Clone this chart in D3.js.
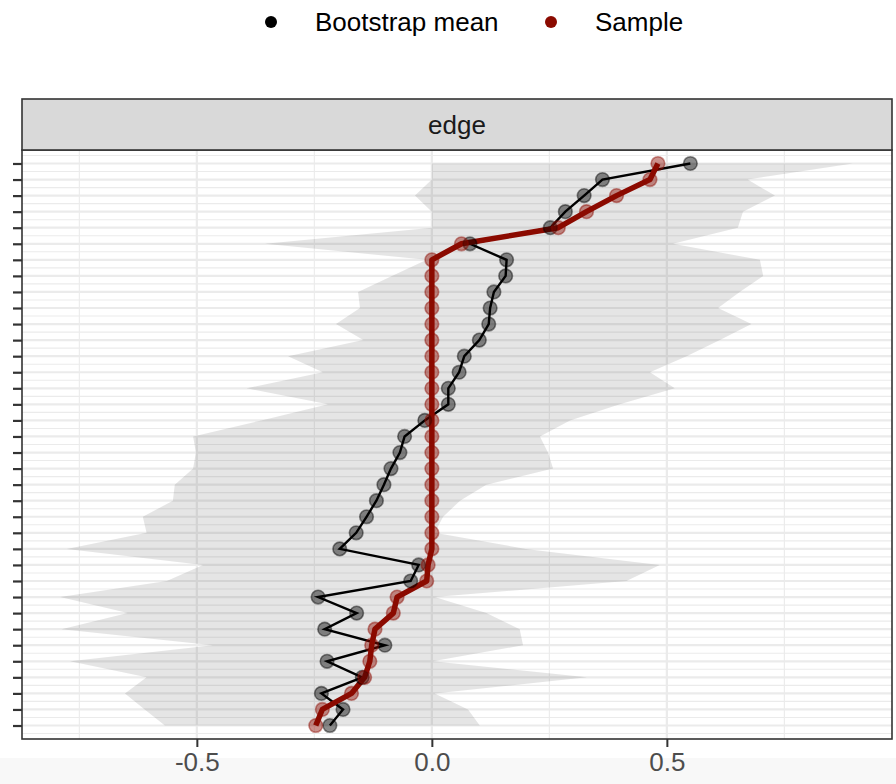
<!DOCTYPE html>
<html>
<head>
<meta charset="utf-8">
<script src="https://cdn.jsdelivr.net/npm/d3@7"></script>
<style>
  body { margin: 0; background: #fff; }
  svg { display: block; font-family: "Liberation Sans", Arial, Helvetica, sans-serif; }
</style>
</head>
<body>
<div class="grafico"></div>
<script>
// edges, top to bottom (ordered by sample value)
var edges = ["E01","E02","E03","E04","E05","E06","E07","E08","E09","E10","E11","E12",
             "E13","E14","E15","E16","E17","E18","E19","E20","E21","E22","E23","E24",
             "E25","E26","E27","E28","E29","E30","E31","E32","E33","E34","E35","E36"];

var bootMean = [0.550, 0.363, 0.324, 0.284, 0.252, 0.081, 0.159, 0.157, 0.132, 0.124, 0.121, 0.101,
                0.069, 0.058, 0.035, 0.035, -0.015, -0.058, -0.068, -0.087, -0.102, -0.118, -0.139, -0.161,
                -0.196, -0.028, -0.045, -0.242, -0.160, -0.228, -0.100, -0.223, -0.148, -0.235, -0.189, -0.217];

var sample = [0.481, 0.464, 0.393, 0.329, 0.269, 0.063, 0, 0, 0, 0, 0, 0,
              0, 0, 0, 0, 0, 0, 0, 0, 0, 0, 0, 0,
              0, -0.008, -0.011, -0.074, -0.082, -0.121, -0.128, -0.132, -0.143, -0.171, -0.233, -0.247];

// bootstrap CI bounds
var lower = [0.0, 0.0, -0.036, 0.0, 0.0, -0.355, -0.011, -0.085, -0.157, -0.153, -0.204, -0.146,
             -0.306, -0.232, -0.394, -0.221, -0.363, -0.508, -0.502, -0.508, -0.547, -0.551, -0.615, -0.607,
             -0.777, -0.487, -0.564, -0.791, -0.647, -0.788, -0.466, -0.770, -0.607, -0.653, -0.611, -0.568];

var upper = [0.896, 0.672, 0.730, 0.662, 0.651, 0.513, 0.698, 0.705, 0.655, 0.609, 0.680, 0.613,
             0.542, 0.464, 0.517, 0.400, 0.294, 0.230, 0.247, 0.258, 0.116, 0.060, 0.024, 0.006,
             0.200, 0.485, 0.414, 0.006, 0.116, 0.187, 0.194, 0.002, 0.330, 0.006, 0.077, 0.102];

var xTicks = [-0.5, 0.0, 0.5];
var xMinor = [-0.75, -0.25, 0.25, 0.75];
var series = ["Bootstrap mean", "Sample"];
var cores = ["#000000", "#8b0a00"];

var width = 896, height = 784;
var pLeft = 22, pRight = 892, pTop = 150, pBottom = 739;

var svg = d3.select(".grafico").append("svg")
  .attr("width", width)
  .attr("height", height);

// faixa cinza clara no rodape
svg.append("rect").attr("x", 0).attr("y", 758).attr("width", width).attr("height", height - 758)
  .attr("fill", "#f8f8f8");

var x = d3.scaleLinear().domain([-0.872, 0.979]).range([pLeft, pRight]);
var y = d3.scalePoint().domain(edges).range([pTop, pBottom]).padding(0.84);
var step = y.step();

var dados = edges.map(function(e, i) {
  return { edge: e, mean: bootMean[i], sample: sample[i], lo: lower[i], hi: upper[i] };
});

// painel
svg.append("rect").attr("x", pLeft).attr("y", pTop).attr("width", pRight - pLeft).attr("height", pBottom - pTop)
  .attr("fill", "#fff");

var grid = svg.append("g");
// linhas menores do eixo y (entre as categorias)
var minorY = [y(edges[0]) - step / 2].concat(edges.map(function(e) { return y(e) + step / 2; }));
grid.selectAll(".ymin").data(minorY).enter().append("line")
  .attr("x1", pLeft).attr("x2", pRight)
  .attr("y1", function(d) { return d; }).attr("y2", function(d) { return d; })
  .attr("stroke", "#ebebeb").attr("stroke-width", 1.1);
grid.selectAll(".ymaj").data(edges).enter().append("line")
  .attr("x1", pLeft).attr("x2", pRight)
  .attr("y1", function(d) { return y(d); }).attr("y2", function(d) { return y(d); })
  .attr("stroke", "#ebebeb").attr("stroke-width", 2.2);
grid.selectAll(".xmin").data(xMinor).enter().append("line")
  .attr("y1", pTop).attr("y2", pBottom)
  .attr("x1", function(d) { return x(d); }).attr("x2", function(d) { return x(d); })
  .attr("stroke", "#ebebeb").attr("stroke-width", 1.1);
grid.selectAll(".xmaj").data(xTicks).enter().append("line")
  .attr("y1", pTop).attr("y2", pBottom)
  .attr("x1", function(d) { return x(d); }).attr("x2", function(d) { return x(d); })
  .attr("stroke", "#ebebeb").attr("stroke-width", 2.2);

// intervalo bootstrap
var area = d3.area()
  .y(function(d) { return y(d.edge); })
  .x0(function(d) { return x(d.lo); })
  .x1(function(d) { return x(d.hi); });
svg.append("path").datum(dados)
  .attr("d", area)
  .attr("fill", "#000").attr("fill-opacity", 0.1);

// linhas
var linhaMean = d3.line().x(function(d) { return x(d.mean); }).y(function(d) { return y(d.edge); });
var linhaSample = d3.line().x(function(d) { return x(d.sample); }).y(function(d) { return y(d.edge); });
svg.append("path").datum(dados).attr("d", linhaMean)
  .attr("fill", "none").attr("stroke", cores[0]).attr("stroke-width", 2.4);
svg.append("path").datum(dados).attr("d", linhaSample)
  .attr("fill", "none").attr("stroke", cores[1]).attr("stroke-width", 5.5)
  .attr("stroke-linejoin", "round");

// pontos (preenchimento + contorno com alpha, como no ggplot)
svg.selectAll(".pmean").data(dados).enter().append("circle")
  .attr("cx", function(d) { return x(d.mean); })
  .attr("cy", function(d) { return y(d.edge); })
  .attr("r", 6.8)
  .attr("fill", cores[0]).attr("fill-opacity", 0.45)
  .attr("stroke", cores[0]).attr("stroke-opacity", 0.45).attr("stroke-width", 1.6);
svg.selectAll(".psample").data(dados).enter().append("circle")
  .attr("cx", function(d) { return x(d.sample); })
  .attr("cy", function(d) { return y(d.edge); })
  .attr("r", 6.8)
  .attr("fill", cores[1]).attr("fill-opacity", 0.45)
  .attr("stroke", cores[1]).attr("stroke-opacity", 0.45).attr("stroke-width", 1.6);

// borda do painel
svg.append("rect").attr("x", pLeft).attr("y", pTop).attr("width", pRight - pLeft).attr("height", pBottom - pTop)
  .attr("fill", "none").attr("stroke", "#333").attr("stroke-width", 1.6);

// eixos
var xAxis = d3.axisBottom(x).tickValues(xTicks).tickSize(8).tickPadding(6);
var gx = svg.append("g").attr("transform", "translate(0," + pBottom + ")").call(xAxis);
gx.select(".domain").remove();
gx.selectAll("line").attr("stroke", "#333").attr("stroke-width", 2);
gx.selectAll("text").attr("font-size", 26).attr("fill", "#4d4d4d")
  .attr("font-family", "Liberation Sans, Arial, sans-serif")
  .text(function(d) { return d3.format(".1f")(d).replace("\u2212", "-"); });

var yAxis = d3.axisLeft(y).tickSize(9).tickFormat("");
var gy = svg.append("g").attr("transform", "translate(" + pLeft + ",0)").call(yAxis);
gy.select(".domain").remove();
gy.selectAll("line").attr("stroke", "#333").attr("stroke-width", 2.2);

// faixa "edge"
svg.append("rect").attr("x", pLeft).attr("y", 99).attr("width", pRight - pLeft).attr("height", pTop - 99)
  .attr("fill", "#d9d9d9").attr("stroke", "#333").attr("stroke-width", 1.6);
svg.append("text").attr("x", (pLeft + pRight) / 2).attr("y", 125)
  .attr("text-anchor", "middle").attr("dominant-baseline", "central")
  .attr("font-size", 26).attr("fill", "#1a1a1a").text("edge");

// legenda
var legX = [271, 551];
var leg = svg.selectAll(".leg").data(series).enter().append("g")
  .attr("transform", function(d, i) { return "translate(" + legX[i] + ",22)"; });
leg.append("circle").attr("r", 6).attr("fill", function(d, i) { return cores[i]; });
leg.append("text").attr("x", 44).attr("dominant-baseline", "central")
  .attr("font-size", 26).attr("fill", "#000").text(function(d) { return d; });
</script>
</body>
</html>
